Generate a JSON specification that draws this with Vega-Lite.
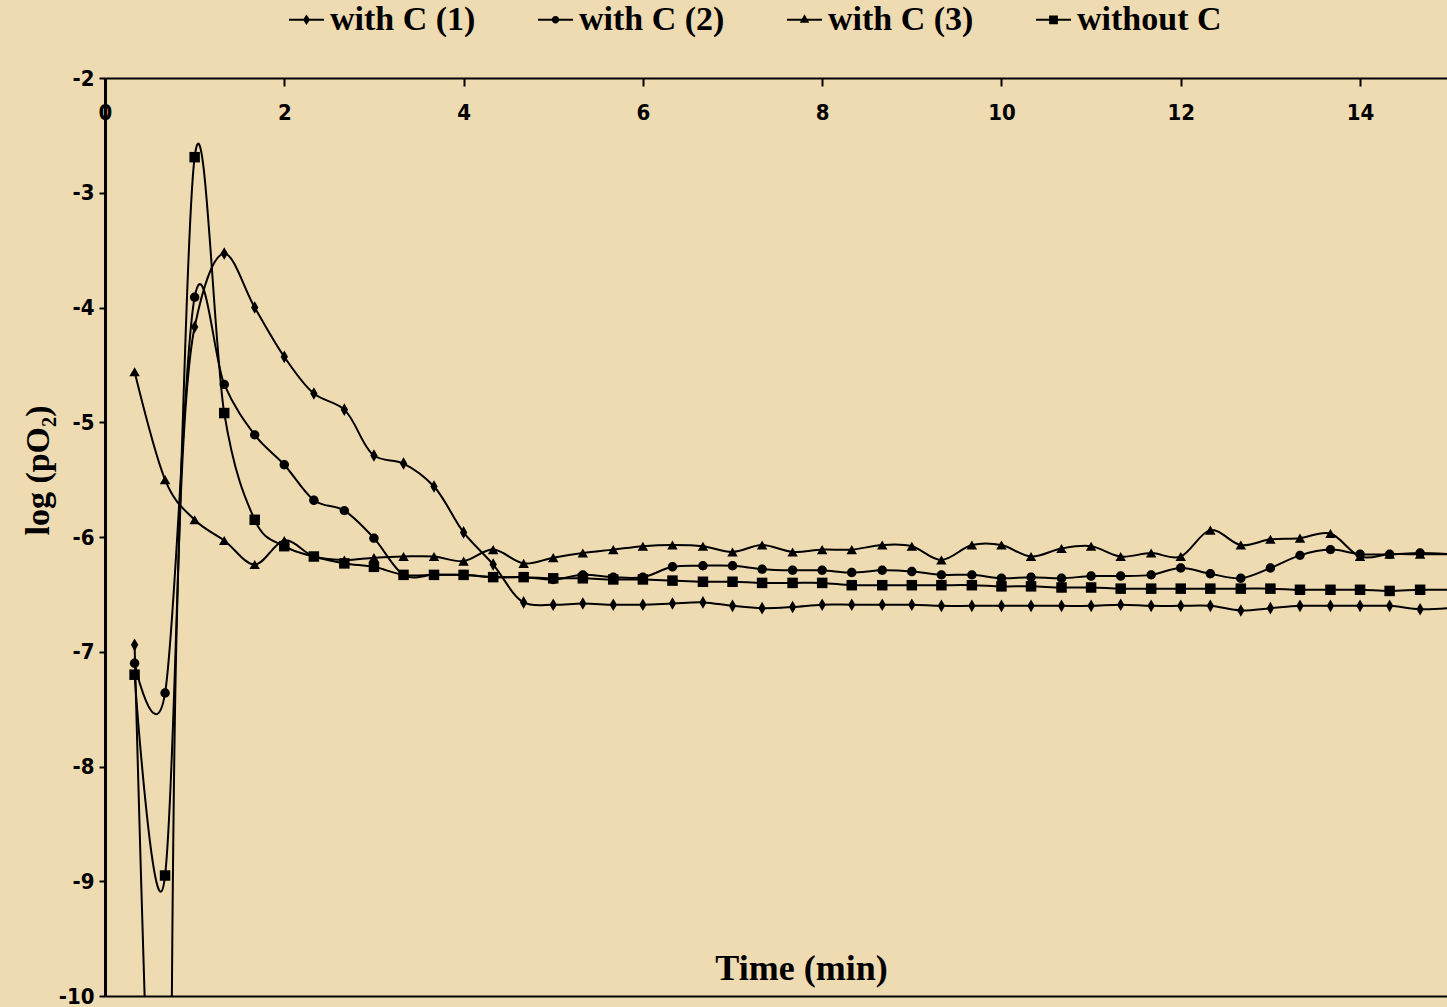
{
  "$schema": "https://vega.github.io/schema/vega-lite/v6.json",
  "width": 1342,
  "height": 918,
  "autosize": {"type": "none"},
  "padding": {"left": 105, "top": 78, "right": 0, "bottom": 11},
  "background": "#EFDBB1",
  "config": {"view": {"stroke": null}},
  "data": {"values": [
    {"series":"with C (1)","t":0.33,"v":-6.94},{"series":"with C (1)","t":0.67,"v":-14},{"series":"with C (1)","t":1,"v":-4.17},{"series":"with C (1)","t":1.33,"v":-3.53},{"series":"with C (1)","t":1.67,"v":-4.00},{"series":"with C (1)","t":2,"v":-4.43},{"series":"with C (1)","t":2.33,"v":-4.75},{"series":"with C (1)","t":2.67,"v":-4.89},{"series":"with C (1)","t":3,"v":-5.29},{"series":"with C (1)","t":3.33,"v":-5.36},{"series":"with C (1)","t":3.67,"v":-5.56},{"series":"with C (1)","t":4,"v":-5.96},{"series":"with C (1)","t":4.33,"v":-6.24},{"series":"with C (1)","t":4.67,"v":-6.57},{"series":"with C (1)","t":5,"v":-6.59},{"series":"with C (1)","t":5.33,"v":-6.58},{"series":"with C (1)","t":5.67,"v":-6.59},{"series":"with C (1)","t":6,"v":-6.59},{"series":"with C (1)","t":6.33,"v":-6.58},{"series":"with C (1)","t":6.67,"v":-6.57},{"series":"with C (1)","t":7,"v":-6.60},{"series":"with C (1)","t":7.33,"v":-6.62},{"series":"with C (1)","t":7.67,"v":-6.61},{"series":"with C (1)","t":8,"v":-6.59},{"series":"with C (1)","t":8.33,"v":-6.59},{"series":"with C (1)","t":8.67,"v":-6.59},{"series":"with C (1)","t":9,"v":-6.59},{"series":"with C (1)","t":9.33,"v":-6.60},{"series":"with C (1)","t":9.67,"v":-6.60},{"series":"with C (1)","t":10,"v":-6.60},{"series":"with C (1)","t":10.33,"v":-6.60},{"series":"with C (1)","t":10.67,"v":-6.60},{"series":"with C (1)","t":11,"v":-6.60},{"series":"with C (1)","t":11.33,"v":-6.59},{"series":"with C (1)","t":11.67,"v":-6.60},{"series":"with C (1)","t":12,"v":-6.60},{"series":"with C (1)","t":12.33,"v":-6.60},{"series":"with C (1)","t":12.67,"v":-6.64},{"series":"with C (1)","t":13,"v":-6.62},{"series":"with C (1)","t":13.33,"v":-6.60},{"series":"with C (1)","t":13.67,"v":-6.60},{"series":"with C (1)","t":14,"v":-6.60},{"series":"with C (1)","t":14.33,"v":-6.60},{"series":"with C (1)","t":14.67,"v":-6.63},{"series":"with C (1)","t":15,"v":-6.62},
    {"series":"with C (2)","t":0.33,"v":-7.10},{"series":"with C (2)","t":0.67,"v":-7.36},{"series":"with C (2)","t":1,"v":-3.91},{"series":"with C (2)","t":1.33,"v":-4.67},{"series":"with C (2)","t":1.67,"v":-5.11},{"series":"with C (2)","t":2,"v":-5.37},{"series":"with C (2)","t":2.33,"v":-5.68},{"series":"with C (2)","t":2.67,"v":-5.77},{"series":"with C (2)","t":3,"v":-6.01},{"series":"with C (2)","t":3.33,"v":-6.33},{"series":"with C (2)","t":3.67,"v":-6.33},{"series":"with C (2)","t":4,"v":-6.33},{"series":"with C (2)","t":4.33,"v":-6.35},{"series":"with C (2)","t":4.67,"v":-6.35},{"series":"with C (2)","t":5,"v":-6.37},{"series":"with C (2)","t":5.33,"v":-6.33},{"series":"with C (2)","t":5.67,"v":-6.35},{"series":"with C (2)","t":6,"v":-6.35},{"series":"with C (2)","t":6.33,"v":-6.26},{"series":"with C (2)","t":6.67,"v":-6.25},{"series":"with C (2)","t":7,"v":-6.25},{"series":"with C (2)","t":7.33,"v":-6.28},{"series":"with C (2)","t":7.67,"v":-6.29},{"series":"with C (2)","t":8,"v":-6.29},{"series":"with C (2)","t":8.33,"v":-6.31},{"series":"with C (2)","t":8.67,"v":-6.29},{"series":"with C (2)","t":9,"v":-6.30},{"series":"with C (2)","t":9.33,"v":-6.33},{"series":"with C (2)","t":9.67,"v":-6.33},{"series":"with C (2)","t":10,"v":-6.36},{"series":"with C (2)","t":10.33,"v":-6.35},{"series":"with C (2)","t":10.67,"v":-6.36},{"series":"with C (2)","t":11,"v":-6.34},{"series":"with C (2)","t":11.33,"v":-6.34},{"series":"with C (2)","t":11.67,"v":-6.33},{"series":"with C (2)","t":12,"v":-6.27},{"series":"with C (2)","t":12.33,"v":-6.32},{"series":"with C (2)","t":12.67,"v":-6.36},{"series":"with C (2)","t":13,"v":-6.27},{"series":"with C (2)","t":13.33,"v":-6.16},{"series":"with C (2)","t":13.67,"v":-6.11},{"series":"with C (2)","t":14,"v":-6.15},{"series":"with C (2)","t":14.33,"v":-6.15},{"series":"with C (2)","t":14.67,"v":-6.14},{"series":"with C (2)","t":15,"v":-6.15},
    {"series":"with C (3)","t":0.33,"v":-4.56},{"series":"with C (3)","t":0.67,"v":-5.50},{"series":"with C (3)","t":1,"v":-5.85},{"series":"with C (3)","t":1.33,"v":-6.03},{"series":"with C (3)","t":1.67,"v":-6.24},{"series":"with C (3)","t":2,"v":-6.03},{"series":"with C (3)","t":2.33,"v":-6.17},{"series":"with C (3)","t":2.67,"v":-6.20},{"series":"with C (3)","t":3,"v":-6.18},{"series":"with C (3)","t":3.33,"v":-6.17},{"series":"with C (3)","t":3.67,"v":-6.17},{"series":"with C (3)","t":4,"v":-6.21},{"series":"with C (3)","t":4.33,"v":-6.11},{"series":"with C (3)","t":4.67,"v":-6.23},{"series":"with C (3)","t":5,"v":-6.18},{"series":"with C (3)","t":5.33,"v":-6.14},{"series":"with C (3)","t":5.67,"v":-6.11},{"series":"with C (3)","t":6,"v":-6.08},{"series":"with C (3)","t":6.33,"v":-6.07},{"series":"with C (3)","t":6.67,"v":-6.08},{"series":"with C (3)","t":7,"v":-6.13},{"series":"with C (3)","t":7.33,"v":-6.07},{"series":"with C (3)","t":7.67,"v":-6.13},{"series":"with C (3)","t":8,"v":-6.11},{"series":"with C (3)","t":8.33,"v":-6.11},{"series":"with C (3)","t":8.67,"v":-6.07},{"series":"with C (3)","t":9,"v":-6.08},{"series":"with C (3)","t":9.33,"v":-6.20},{"series":"with C (3)","t":9.67,"v":-6.07},{"series":"with C (3)","t":10,"v":-6.07},{"series":"with C (3)","t":10.33,"v":-6.17},{"series":"with C (3)","t":10.67,"v":-6.10},{"series":"with C (3)","t":11,"v":-6.08},{"series":"with C (3)","t":11.33,"v":-6.17},{"series":"with C (3)","t":11.67,"v":-6.14},{"series":"with C (3)","t":12,"v":-6.17},{"series":"with C (3)","t":12.33,"v":-5.94},{"series":"with C (3)","t":12.67,"v":-6.07},{"series":"with C (3)","t":13,"v":-6.02},{"series":"with C (3)","t":13.33,"v":-6.01},{"series":"with C (3)","t":13.67,"v":-5.97},{"series":"with C (3)","t":14,"v":-6.17},{"series":"with C (3)","t":14.33,"v":-6.15},{"series":"with C (3)","t":14.67,"v":-6.15},{"series":"with C (3)","t":15,"v":-6.15},
    {"series":"without C","t":0.33,"v":-7.20},{"series":"without C","t":0.67,"v":-8.95},{"series":"without C","t":1,"v":-2.69},{"series":"without C","t":1.33,"v":-4.92},{"series":"without C","t":1.67,"v":-5.85},{"series":"without C","t":2,"v":-6.08},{"series":"without C","t":2.33,"v":-6.17},{"series":"without C","t":2.67,"v":-6.23},{"series":"without C","t":3,"v":-6.26},{"series":"without C","t":3.33,"v":-6.33},{"series":"without C","t":3.67,"v":-6.33},{"series":"without C","t":4,"v":-6.33},{"series":"without C","t":4.33,"v":-6.35},{"series":"without C","t":4.67,"v":-6.35},{"series":"without C","t":5,"v":-6.36},{"series":"without C","t":5.33,"v":-6.36},{"series":"without C","t":5.67,"v":-6.37},{"series":"without C","t":6,"v":-6.37},{"series":"without C","t":6.33,"v":-6.38},{"series":"without C","t":6.67,"v":-6.39},{"series":"without C","t":7,"v":-6.39},{"series":"without C","t":7.33,"v":-6.40},{"series":"without C","t":7.67,"v":-6.40},{"series":"without C","t":8,"v":-6.40},{"series":"without C","t":8.33,"v":-6.42},{"series":"without C","t":8.67,"v":-6.42},{"series":"without C","t":9,"v":-6.42},{"series":"without C","t":9.33,"v":-6.42},{"series":"without C","t":9.67,"v":-6.42},{"series":"without C","t":10,"v":-6.43},{"series":"without C","t":10.33,"v":-6.43},{"series":"without C","t":10.67,"v":-6.44},{"series":"without C","t":11,"v":-6.44},{"series":"without C","t":11.33,"v":-6.45},{"series":"without C","t":11.67,"v":-6.45},{"series":"without C","t":12,"v":-6.45},{"series":"without C","t":12.33,"v":-6.45},{"series":"without C","t":12.67,"v":-6.45},{"series":"without C","t":13,"v":-6.45},{"series":"without C","t":13.33,"v":-6.46},{"series":"without C","t":13.67,"v":-6.46},{"series":"without C","t":14,"v":-6.46},{"series":"without C","t":14.33,"v":-6.47},{"series":"without C","t":14.67,"v":-6.46},{"series":"without C","t":15,"v":-6.46}
  ]},
  "layer": [
    {
      "transform": [{"filter": "datum.series !== 'with C (1)'"}],
      "mark": {"type": "line", "interpolate": "cardinal", "color": "black", "strokeWidth": 2, "clip": true},
      "encoding": {
        "detail": {"field": "series", "type": "nominal"},
        "x": {"field": "t", "type": "quantitative", "scale": {"domain": [0, 14.97], "nice": false, "zero": false},
          "axis": {"orient": "top", "values": [0,2,4,6,8,10,12,14], "grid": false, "title": null, "zindex": 1,
            "tickSize": -8, "tickWidth": 2, "tickColor": "black", "domainColor": "black", "domainWidth": 2,
            "labelFont": "Liberation Sans Narrow, DejaVu Sans Condensed, Liberation Sans, sans-serif", "labelFontWeight": "bold", "labelFontSize": 22, "labelColor": "black",
            "labelPadding": -26, "labelBaseline": "middle", "labelFlush": false, "labelExpr": "'' + datum.value"}},
        "y": {"field": "v", "type": "quantitative", "scale": {"domain": [-10, -2], "nice": false, "zero": false},
          "axis": {"orient": "left", "values": [-2,-3,-4,-5,-6,-7,-8,-9,-10], "grid": false,
            "tickSize": 6, "tickWidth": 2, "tickColor": "black", "domainColor": "black", "domainWidth": 3,
            "labelFont": "Liberation Sans Narrow, DejaVu Sans Condensed, Liberation Sans, sans-serif", "labelFontWeight": "bold", "labelFontSize": 22, "labelColor": "black",
            "labelPadding": 5, "labelFlush": false, "labelExpr": "'' + datum.value",
            "title": "log (pO₂)", "titleFont": "Liberation Serif", "titleFontWeight": "bold", "titleFontSize": 34, "titleColor": "black",
            "titleX": -67, "titleY": 392, "titleAlign": "center", "titleBaseline": "middle", "titleAngle": -90}}
      }
    },
    {
      "transform": [{"filter": "datum.series === 'with C (1)'"}],
      "mark": {"type": "line", "interpolate": "catmull-rom", "color": "black", "strokeWidth": 2, "clip": true},
      "encoding": {
        "x": {"field": "t", "type": "quantitative", "axis": null},
        "y": {"field": "v", "type": "quantitative"}
      }
    },
    {
      "transform": [{"filter": "datum.t < 14.9"}],
      "mark": {"type": "point", "filled": true, "color": "black", "opacity": 1, "size": 110, "clip": true},
      "encoding": {
        "x": {"field": "t", "type": "quantitative",
          "axis": {"orient": "bottom", "ticks": false, "labels": false, "grid": false, "domain": true, "domainColor": "black", "domainWidth": 2,
            "title": "Time (min)", "titleFont": "Liberation Serif", "titleFontWeight": "bold", "titleFontSize": 36, "titleColor": "black",
            "titleX": 696, "titleY": -28, "titleAlign": "center", "titleBaseline": "middle"}},
        "y": {"field": "v", "type": "quantitative"},
        "shape": {"field": "series", "type": "nominal", "legend": null,
          "scale": {"domain": ["with C (1)", "with C (2)", "with C (3)", "without C"],
                    "range": ["M0,-1.2L0.7,0L0,1.2L-0.7,0Z", "M0.9,0A0.9,0.9,0,1,1,-0.9,0A0.9,0.9,0,1,1,0.9,0Z", "triangle-up", "square"]}}
      }
    },
    {
      "transform": [{"filter": "false"}],
      "mark": {"type": "point", "filled": true, "color": "black", "opacity": 1},
      "encoding": {
        "shape": {"field": "series", "type": "nominal",
          "scale": {"domain": ["with C (1)", "with C (2)", "with C (3)", "without C"],
                    "range": ["M-1,-0.055H1V0.055H-1ZM0,-0.3L0.2,0L0,0.3L-0.2,0Z", "M-1,-0.055H1V0.055H-1ZM0.21,0A0.21,0.21,0,1,1,-0.21,0A0.21,0.21,0,1,1,0.21,0Z", "M-1,-0.055H1V0.055H-1ZM0,-0.32L0.27,0.17H-0.27Z", "M-1,-0.055H1V0.055H-1ZM-0.25,-0.25H0.25V0.25H-0.25Z"]},
          "legend": {"orient": "none", "direction": "horizontal", "legendX": 184, "legendY": -76, "title": null,
            "labelFont": "Liberation Serif", "labelFontWeight": "bold", "labelFontSize": 34, "labelColor": "black", "labelLimit": 500,
            "labelOffset": 6, "columnPadding": 62, "symbolSize": 1225, "symbolStrokeWidth": 0,
            "symbolFillColor": "black", "symbolOpacity": 1}}
      }
    }
  ],
  "resolve": {"axis": {"x": "independent"}, "scale": {"shape": "independent"}}
}
